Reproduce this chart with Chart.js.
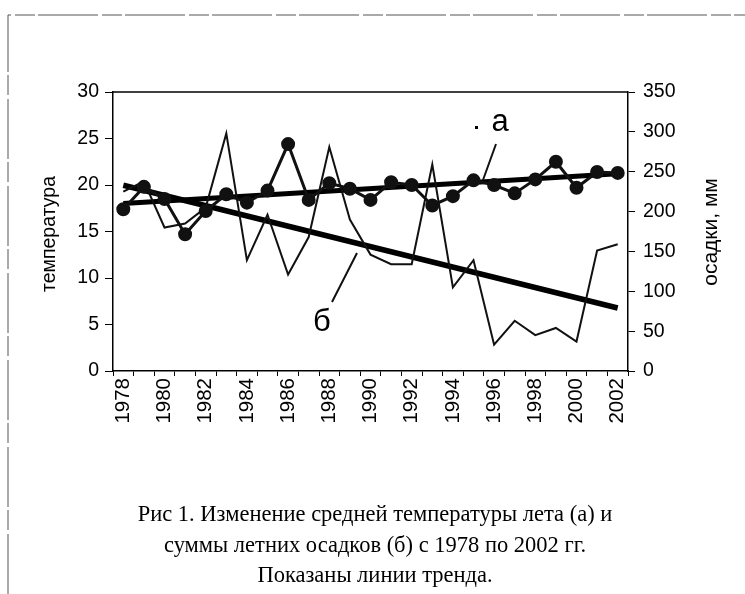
<!DOCTYPE html>
<html>
<head>
<meta charset="utf-8">
<script src="https://cdn.jsdelivr.net/npm/chart.js@4/dist/chart.umd.min.js"></script>
<style>
  body { margin: 0; background: #fff; }
  #wrap { position: relative; width: 745px; height: 594px; }
  #caption {
    position: absolute; left: 0; top: 499px; width: 750px;
    text-align: center; font-family: "Liberation Serif", "Times New Roman", serif;
    font-size: 22.5px; line-height: 30.5px; color: #000;
  }
</style>
</head>
<body>
<div id="wrap">
  <canvas id="chart" width="745" height="594"></canvas>
  <div id="caption">Рис 1. Изменение средней температуры лета (а) и<br>суммы летних осадков (б) с 1978 по 2002 гг.<br>Показаны линии тренда.</div>
</div>
<script>
const years = ['1978', '1979', '1980', '1981', '1982', '1983', '1984', '1985', '1986', '1987', '1988', '1989', '1990',
  '1991', '1992', '1993', '1994', '1995', '1996', '1997', '1998', '1999', '2000', '2001', '2002'];
// summer temperature (a), left axis
const temperature = [17.4, 19.8, 18.5, 14.7, 17.2, 19.0, 18.1, 19.4, 24.4, 18.4, 20.2, 19.6, 18.4,
  20.3, 20.0, 17.8, 18.8, 20.5, 20.0, 19.1, 20.6, 22.5, 19.7, 21.4, 21.3];
// summer precipitation, mm (б), right axis
const precipitation = [225, 238, 180, 185, 205, 298, 139, 196, 121, 168, 281, 190, 146,
  134, 134, 259, 105, 139, 33, 63, 45, 54, 37, 151, 159];
// trend line end values (1978, 2002)
const tempTrendEnds = [18.0, 21.2];
const precipTrendEnds = [233, 79];
const leftTicks = [0, 5, 10, 15, 20, 25, 30];
const rightTicks = [0, 50, 100, 150, 200, 250, 300, 350];

function trendSeries(ends) {
  return years.map((y, i) => i === 0 ? ends[0] : (i === years.length - 1 ? ends[1] : null));
}

const tickFont = { family: "'Liberation Sans', Arial, sans-serif", size: 19.5 };

// axis titles, plot frame, "а"/"б" labels and the scan border
const extras = {
  id: 'extras',
  afterDraw(chart) {
    const ctx = chart.ctx;
    const a = chart.chartArea;
    ctx.save();
    ctx.strokeStyle = '#000';
    ctx.lineWidth = 1.5;
    ctx.beginPath();
    ctx.moveTo(a.left, a.top);
    ctx.lineTo(a.right, a.top);
    ctx.stroke();

    // scan border
    ctx.strokeStyle = '#555';
    ctx.lineWidth = 1;
    ctx.setLineDash([60, 4, 20, 3]);
    ctx.beginPath();
    ctx.moveTo(8, 594);
    ctx.lineTo(8, 15);
    ctx.lineTo(745, 15);
    ctx.stroke();
    ctx.setLineDash([]);

    ctx.fillStyle = '#000';
    ctx.textAlign = 'center';
    ctx.textBaseline = 'middle';
    ctx.font = "19.5px 'Liberation Sans', Arial, sans-serif";
    ctx.translate(50, 234);
    ctx.rotate(-Math.PI / 2);
    ctx.fillText('температура', 0, 0);
    ctx.setTransform(1, 0, 0, 1, 0, 0);
    ctx.font = "21px 'Liberation Sans', Arial, sans-serif";
    ctx.translate(711, 232);
    ctx.rotate(-Math.PI / 2);
    ctx.fillText('осадки, мм', 0, 0);
    ctx.setTransform(1, 0, 0, 1, 0, 0);

    // series labels with leaders
    ctx.font = "31px 'Liberation Sans', Arial, sans-serif";
    ctx.fillText('а', a.left + 387, 122);
    ctx.fillText('б', a.left + 209, 322);
    ctx.fillRect(a.left + 362, 126, 3, 3);
    ctx.lineWidth = 2;
    ctx.strokeStyle = '#111';
    ctx.beginPath();
    ctx.moveTo(a.left + 383, 144);
    ctx.lineTo(a.left + 370, 180);
    ctx.moveTo(a.left + 219, 302);
    ctx.lineTo(a.left + 244, 253);
    ctx.stroke();
    ctx.restore();
  }
};

new Chart(document.getElementById('chart'), {
  type: 'line',
  data: {
    labels: years,
    datasets: [
      {
        label: 'температура',
        data: temperature,
        yAxisID: 'y',
        borderColor: '#111',
        backgroundColor: '#111',
        borderWidth: 3,
        pointRadius: 5.5,
        pointBackgroundColor: '#111',
        tension: 0
      },
      {
        label: 'осадки',
        data: precipitation,
        yAxisID: 'y1',
        borderColor: '#111',
        borderWidth: 2,
        pointRadius: 0,
        tension: 0
      },
      {
        label: 'тренд а',
        data: trendSeries(tempTrendEnds),
        yAxisID: 'y',
        borderColor: '#000',
        borderWidth: 5,
        pointRadius: 0,
        spanGaps: true
      },
      {
        label: 'тренд б',
        data: trendSeries(precipTrendEnds),
        yAxisID: 'y1',
        borderColor: '#000',
        borderWidth: 5.5,
        pointRadius: 0,
        spanGaps: true
      }
    ]
  },
  options: {
    responsive: false,
    animation: false,
    layout: { padding: { top: 92, bottom: 0, left: 0, right: 0 } },
    plugins: { legend: { display: false }, tooltip: { enabled: false } },
    scales: {
      x: {
        offset: true,
        grid: { drawOnChartArea: false, color: '#000', tickLength: 5, offset: true },
        border: { color: '#000', width: 1.5 },
        ticks: {
          autoSkip: false, minRotation: 90, maxRotation: 90, padding: 2,
          color: '#000', font: { family: tickFont.family, size: 20.5 },
          callback: (v, i) => i % 2 === 0 ? years[i] : ''
        },
        afterFit: s => { s.height = 223; }
      },
      y: {
        position: 'left',
        min: 0, max: 30,
        afterBuildTicks: s => { s.ticks = leftTicks.map(v => ({ value: v })); },
        grid: { drawOnChartArea: false, color: '#000', tickLength: 8 },
        border: { color: '#000', width: 1.5 },
        ticks: { color: '#000', font: tickFont, padding: 6 },
        afterFit: s => { s.width = 113; }
      },
      y1: {
        position: 'right',
        min: 0, max: 350,
        afterBuildTicks: s => { s.ticks = rightTicks.map(v => ({ value: v })); },
        grid: { drawOnChartArea: false, color: '#000', tickLength: 7 },
        border: { color: '#000', width: 1.5 },
        ticks: { color: '#000', font: tickFont, padding: 8 },
        afterFit: s => { s.width = 117; }
      }
    }
  },
  plugins: [extras]
});
</script>
</body>
</html>
